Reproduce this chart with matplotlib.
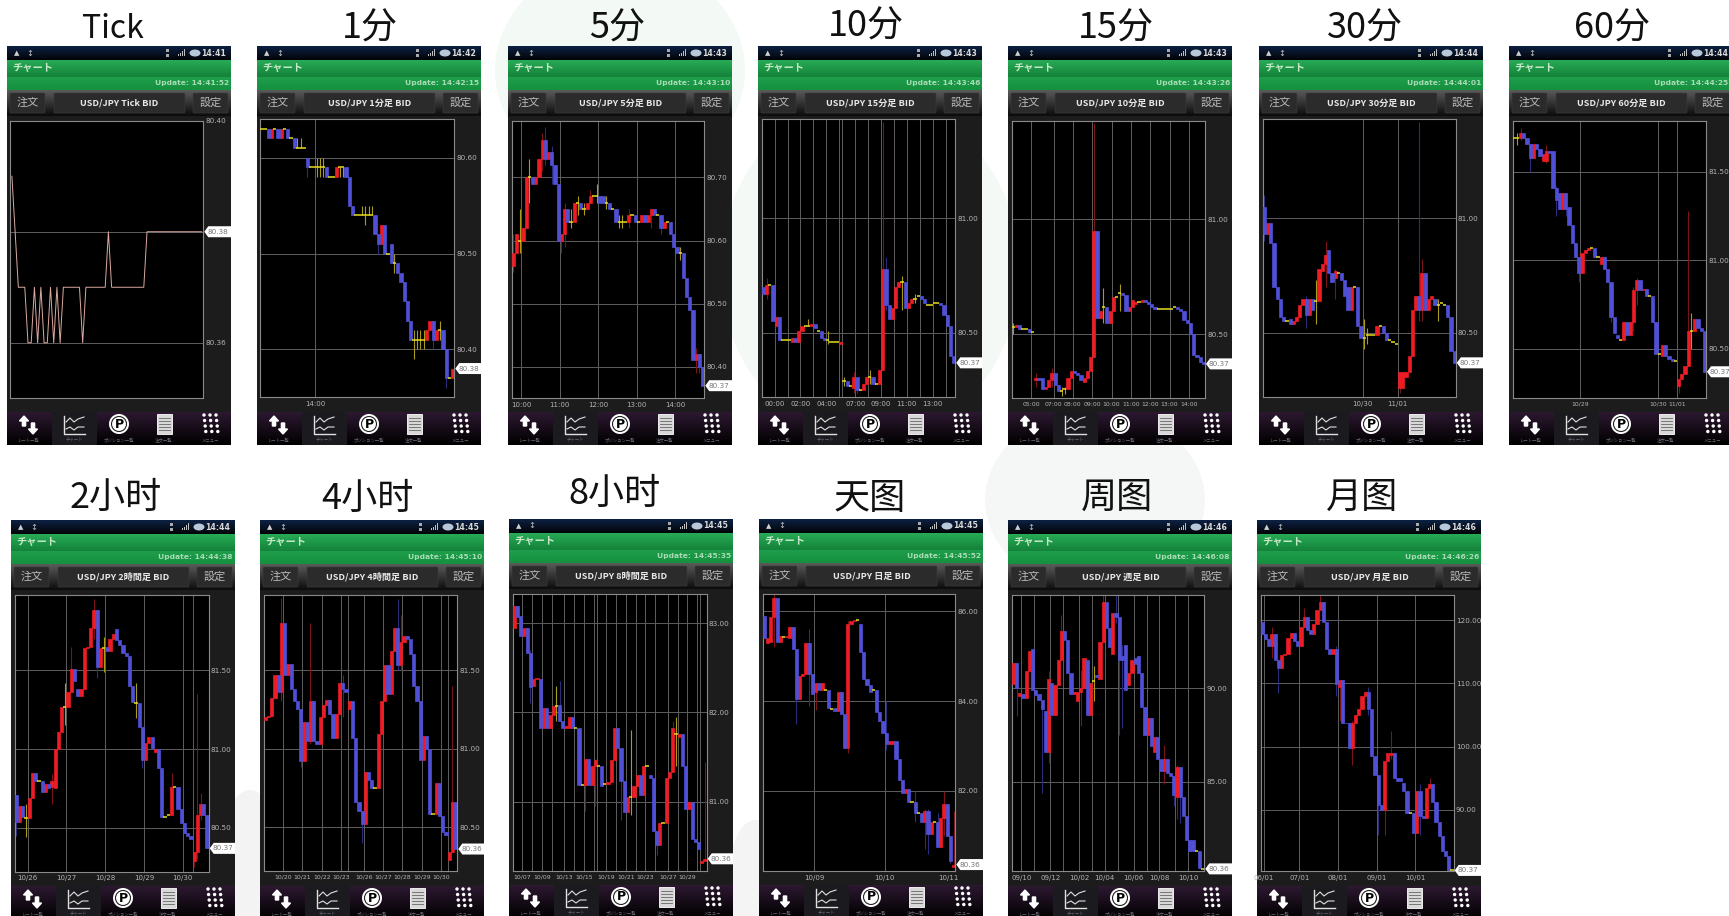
import numpy as np
import matplotlib
matplotlib.use('Agg')
import matplotlib.pyplot as plt
from matplotlib.patches import Rectangle, Circle, Ellipse, Polygon, FancyArrow, FancyBboxPatch
from matplotlib.colors import to_rgb

W, H = 1729, 916
CJK = ['Noto Sans CJK JP', 'DejaVu Sans']

# tick chart
tick_prices = np.array([.39,.38,.37,.37,.37,.36,.36,.37,.36,.37,.36,.36,.37,.36,.37,.36,.37,.37,.37,.37,
                        .37,.37,.36,.37,.37,.37,.37,.37,.37,.37,.38,.37,.37,.37,.37,.37,.37,.37,.37,.37,
                        .37,.37,.38,.38,.38,.38,.38,.38,.38,.38,.38,.38,.38,.38,.38,.38,.38,.38,.38,.38]) + 80

# candles: opens / closes, wicks are (index, low, high)
o_1m = np.array([.63,.63,.63,.62,.63,.63,.62,.63,.63,.62, .62,.61,.61,.61,.60,.59,.59,.59,.59,.59,
                 .59,.58,.58,.58,.59,.59,.59,.58,.55,.54, .54,.54,.54,.54,.54,.54,.52,.51,.53,.50,
                 .51,.49,.49,.48,.47,.45,.43,.41,.41,.41, .41,.41,.42,.43,.41,.42,.42,.40,.37,.37]) + 80
c_1m = np.array([.63,.63,.62,.63,.63,.62,.63,.63,.62,.62, .61,.61,.61,.61,.59,.59,.59,.59,.59,.59,
                 .58,.58,.58,.59,.59,.59,.58,.55,.54,.54, .54,.54,.54,.54,.54,.52,.51,.53,.50,.50,
                 .49,.49,.48,.47,.45,.43,.41,.41,.41,.41, .41,.42,.43,.41,.42,.42,.40,.37,.37,.38]) + 80
wi_1m = [11,12,14,17,18,19,24,25,31,32,33,34,36,38,41,44,47,48,49,50,53,55,57]
wl_1m = np.array([.61,.61,.58,.58,.58,.58,.58,.58,.54,.53,.54,.54,.50,.50,.48,.46,.39,.40,.40,.40,.40,.41,.36]) + 80
wh_1m = np.array([.62,.62,.59,.60,.60,.60,.59,.59,.55,.55,.55,.55,.52,.53,.50,.47,.42,.42,.42,.42,.43,.43,.40]) + 80

o_5m = np.array([.56,.58,.60,.60,.62,.70,.70,.69,.70,.73, .76,.73,.74,.72,.69,.60,.61,.65,.63,.63,
                 .66,.66,.65,.65,.66,.67,.67,.67,.67,.66, .66,.65,.65,.63,.63,.63,.63,.64,.64,.63,
                 .63,.64,.63,.64,.65,.64,.64,.62,.63,.63, .61,.59,.58,.58,.54,.51,.49,.41,.42,.40]) + 80
c_5m = np.array([.58,.61,.60,.62,.70,.70,.69,.70,.73,.76, .73,.74,.72,.69,.60,.61,.65,.63,.63,.66,
                 .66,.65,.65,.66,.67,.67,.67,.66,.66,.66, .65,.65,.63,.63,.63,.63,.64,.64,.63,.63,
                 .64,.63,.64,.65,.64,.64,.62,.63,.63,.61, .59,.58,.58,.54,.51,.49,.41,.42,.40,.37]) + 80
wi_5m = [0,2,5,9,10,12,13,15,16,18,20,22,24,26,29,33,34,36,43,46,52,57,58]
wl_5m = np.array([.55,.58,.66,.71,.72,.69,.69,.58,.59,.62,.64,.64,.67,.66,.65,.62,.62,.62,.62,.61,.57,.39,.39]) + 80
wh_5m = np.array([.61,.65,.73,.77,.78,.75,.72,.61,.66,.65,.67,.66,.68,.69,.67,.64,.64,.65,.65,.64,.59,.43,.42]) + 80

o_15m = np.array([.70,.67,.71,.71,.53,.57,.47,.47,.47,.46, .48,.46,.51,.53,.53,.53,.54,.51,.51,.48,
                  .47,.46,.46,.46,.45,.29,.29,.27,.26,.31, .25,.25,.28,.31,.31,.28,.28,.34,.78,.62,
                  .56,.61,.70,.72,.72,.61,.63,.65,.66,.66, .65,.62,.62,.63,.63,.63,.62,.58,.53,.40]) + 80
c_15m = np.array([.67,.71,.71,.55,.57,.47,.47,.47,.47,.48, .46,.51,.53,.53,.53,.54,.52,.51,.48,.47,
                  .47,.46,.46,.46,.46,.29,.27,.27,.31,.25, .25,.28,.31,.31,.28,.28,.34,.78,.62,.56,
                  .61,.70,.72,.72,.61,.63,.65,.65,.66,.65, .63,.62,.62,.63,.63,.62,.58,.53,.40,.37]) + 80
wi_15m = [1,14,20,25,28,29,33,37,38,43,47]
wl_15m = np.array([.65,.53,.45,.27,.24,.24,.28,.34,.60,.60,.63]) + 80
wh_15m = np.array([.74,.56,.51,.31,.33,.31,.34,1.42,.83,.75,.67]) + 80

o_10m = np.array([.53,.53,.54,.52,.52,.52,.51,.30,.31,.31, .26,.27,.30,.33,.28,.25,.26,.26,.31,.34,
                  .33,.32,.29,.31,.34,.40,.95,.57,.62,.62, .55,.60,.66,.68,.68,.67,.60,.62,.63,.64,
                  .64,.65,.64,.63,.62,.61,.61,.61,.61,.61, .62,.62,.61,.60,.56,.55,.50,.41,.40,.38]) + 80
c_10m = np.array([.53,.54,.52,.52,.52,.51,.51,.31,.30,.26, .27,.30,.33,.28,.25,.25,.26,.31,.34,.33,
                  .32,.30,.31,.34,.40,.95,.57,.60,.62,.55, .60,.66,.66,.68,.67,.60,.62,.65,.64,.64,
                  .65,.64,.63,.62,.61,.61,.61,.61,.61,.61, .62,.61,.60,.56,.55,.50,.41,.40,.38,.37]) + 80
wi_10m = [0,7,12,15,16,25,28,33]
wl_10m = np.array([.50,.27,.27,.23,.24,.40,.55,.60]) + 80
wh_10m = np.array([.55,.33,.35,.27,.27,1.42,.70,.72]) + 80

o_30m = np.array([1.05,.93,.98,.89,.70,.65,.57,.55,.56,.54, .55,.57,.62,.65,.58,.65,.64,.64,.77,.80,
                  .86,.76,.74,.76,.76,.73,.70,.60,.70,.70, .53,.48,.49,.49,.49,.49,.53,.53,.50,.47,
                  .46,.45,.26,.26,.31,.33,.40,.60,.66,.60, .76,.60,.65,.65,.62,.63,.62,.62,.57,.42]) + 80
c_30m = np.array([.93,.98,.89,.70,.65,.57,.55,.55,.54,.55, .57,.62,.65,.58,.65,.60,.64,.78,.80,.84,
                  .76,.72,.77,.76,.73,.66,.60,.70,.70,.53, .48,.48,.49,.49,.49,.53,.53,.50,.47,.47,
                  .46,.45,.33,.33,.33,.40,.60,.66,.60,.76, .60,.65,.66,.62,.62,.63,.62,.57,.42,.37]) + 80
wi_30m = [0,13,16,19,22,31,32,42,48,49,54]
wl_30m = np.array([.90,.52,.54,.70,.65,.43,.45,.24,.55,.55,.55]) + 80
wh_30m = np.array([1.10,.66,.73,.90,.78,.56,.52,.33,1.42,.82,.65]) + 80

o_60m = np.array([1.69,1.69,1.69,1.72,1.69,1.66,1.58,1.66,1.63,1.56, 1.56,1.62,1.62,1.41,1.38,1.29,1.38,1.30,1.20,1.10,
                  1.02,.93,1.04,1.06,1.07,1.07,1.02,.98,1.02,.95, .88,.68,.58,.55,.55,.65,.58,.65,.83,.89,
                  .83,.84,.80,.80,.65,.47,.46,.52,.46,.44, .43,.29,.33,.36,.40,.60,.60,.67,.62,.60]) + 80
c_60m = np.array([1.69,1.69,1.72,1.69,1.66,1.58,1.66,1.63,1.59,1.60, 1.62,1.61,1.41,1.34,1.29,1.38,1.29,1.20,1.10,1.02,
                  .93,1.04,1.06,1.07,1.07,1.02,1.02,1.02,.95,.88, .68,.59,.56,.55,.65,.58,.65,.83,.89,.83,
                  .84,.80,.80,.65,.47,.47,.52,.46,.44,.43, .43,.33,.36,.40,.60,.60,.67,.62,.60,.37]) + 80
wi_60m = [1,2,5,10,13,16,20,30,37,38,51,54,55]
wl_60m = np.array([1.65,1.68,1.50,1.55,1.25,1.25,.88,.65,.60,.75,.25,.40,.50]) + 80
wh_60m = np.array([1.72,1.75,1.66,1.65,1.42,1.38,1.02,.88,.85,.90,.33,1.28,.70]) + 80

o_2h = np.array([.71,.54,.64,.56,.56,.69,.85,.80,.80,.73, .78,.76,.75,1.00,1.11,1.27,1.27,1.36,1.51,1.38,
                 1.34,1.38,1.64,1.65,1.77,1.88,1.52,1.64,1.65,1.62, 1.70,1.76,1.69,1.66,1.61,1.59,1.40,1.29,1.29,1.14,
                 .93,1.04,1.08,.98,1.00,.88,.57,.58,.58,.76, .76,.62,.53,.47,.45,.29,.35,.58,.65,.58]) + 80
c_2h = np.array([.54,.64,.57,.56,.69,.85,.80,.80,.73,.78, .75,.80,1.00,1.11,1.27,1.27,1.36,1.51,1.43,1.34,
                 1.38,1.64,1.65,1.77,1.88,1.52,1.64,1.64,1.62,1.70, 1.73,1.69,1.66,1.61,1.59,1.40,1.30,1.29,1.14,.93,
                 1.04,1.08,1.01,1.00,.88,.57,.57,.58,.76,.76, .62,.53,.47,.45,.43,.35,.58,.65,.58,.37]) + 80
wi_2h = [0,3,11,15,17,24,25,27,37,39,48,55,56,57]
wl_2h = np.array([.45,.44,.65,1.15,1.45,1.70,1.45,1.49,1.20,.88,.60,.25,.30,.55]) + 80
wh_2h = np.array([.71,.65,.84,1.42,1.65,1.95,1.88,1.71,1.42,1.14,.85,.35,1.35,.72]) + 80

o_4h = np.array([1.18,1.20,1.21,1.32,1.47,1.36,1.80,1.47,1.54,1.38, 1.30,1.25,.92,1.17,1.05,1.30,1.05,1.03,1.20,1.28,
                 1.31,1.22,1.07,1.22,1.42,1.38,1.25,1.30,1.07,.66, .60,.52,.85,.80,.75,.75,1.09,1.30,1.53,1.35,
                 1.62,1.77,1.53,1.68,1.72,1.70,1.60,1.40,1.30,.93, 1.08,1.00,.58,.58,.78,.57,.47,.29,.34,.66]) + 80
c_4h = np.array([1.20,1.21,1.32,1.47,1.36,1.80,1.47,1.54,1.38,1.30, 1.25,.92,1.17,1.05,1.30,1.05,1.03,1.20,1.28,1.31,
                 1.22,1.07,1.22,1.42,1.38,1.36,1.30,1.07,.66,.60, .52,.85,.80,.75,.75,1.09,1.30,1.53,1.35,1.62,
                 1.77,1.53,1.68,1.72,1.70,1.60,1.40,1.30,.93,1.08, 1.00,.58,.58,.78,.57,.47,.45,.34,.66,.36]) + 80
wi_4h = [5,11,14,24,30,41,42,58]
wl_4h = np.array([1.30,.88,1.03,1.20,.40,1.50,1.50,.34]) + 80
wh_4h = np.array([1.96,1.25,1.80,1.47,.60,1.95,1.85,1.40]) + 80

o_8h = np.array([2.95,3.19,3.08,2.86,2.95,2.67,2.30,2.37,2.37,1.83, 2.05,1.83,1.97,2.07,2.08,1.90,1.83,1.82,1.95,1.82,
                 1.82,1.19,1.19,1.48,1.19,1.40,1.40,1.40,1.20,1.20, 1.22,1.47,1.83,1.60,1.23,.88,1.05,1.05,1.18,1.30,
                 1.07,1.40,1.30,1.27,.67,.52,.76,.76,1.26,1.33, 1.76,1.72,1.76,1.40,.92,1.00,.58,.55,.31,.33]) + 80
c_8h = np.array([3.19,3.07,2.86,2.95,2.67,2.28,2.37,2.38,1.83,2.05, 1.83,1.97,2.07,2.07,1.90,1.82,1.85,1.95,1.82,1.82,
                 1.19,1.19,1.48,1.19,1.40,1.47,1.40,1.18,1.20,1.22, 1.47,1.83,1.60,1.23,.88,1.05,1.05,1.18,1.30,1.07,
                 1.40,1.40,1.27,.67,.52,.76,.76,1.26,1.33,1.83, 1.76,1.76,1.40,.92,1.00,.58,.55,.47,.33,.36]) + 80
wi_8h = [5,13,14,22,25,33,36,44,49,50,59]
wl_8h = np.array([2.10,1.90,1.90,.90,.95,.80,.85,.40,1.40,1.40,.33]) + 80
wh_8h = np.array([2.70,2.30,2.35,1.48,1.48,1.30,1.80,.67,1.90,1.95,1.45]) + 80

o_day = [85.90,85.30,85.32,85.87,86.30,85.32,85.43,85.43,85.40,85.65, 85.15,84.05,84.55,84.60,85.30,84.60,84.20,84.40,84.25,84.25,
         84.25,83.83,83.85,83.78,84.20,83.72,82.95,85.72,85.78,85.80, 85.72,85.10,84.50,84.35,84.25,84.25,83.75,83.55,83.30,83.05,
         83.05,83.12,82.70,82.25,81.95,82.05,81.75,81.75,81.50,81.50, 81.30,81.55,81.05,81.30,81.30,80.75,81.40,81.70,81.00,80.30]
c_day = [85.40,85.40,85.87,86.30,85.32,85.45,85.43,85.45,85.65,85.15, 84.05,84.55,84.60,85.30,84.60,84.15,84.40,84.25,84.40,84.25,
         83.85,83.83,83.78,84.20,83.72,82.95,85.72,85.78,85.80,85.80, 85.10,84.50,84.35,84.20,84.25,83.75,83.55,83.30,83.05,83.10,
         83.12,82.70,82.25,81.95,82.05,81.75,81.75,81.50,81.50,81.30, 81.55,81.05,81.30,81.30,80.75,81.40,81.70,81.00,80.45,80.36]
wi_day = [3,10,14,15,16,26,38,47,50,51,54,56,58,59]
wl_day = [85.2,83.5,83.9,84.2,83.8,82.85,82.9,81.3,80.7,80.6,80.8,81.0,80.4,80.3]
wh_day = [86.38,85.15,85.6,84.6,84.3,85.78,84.0,82.0,81.6,81.6,81.5,82.0,81.0,81.55]

o_wk = [90.25,91.35,89.60,89.70,89.50,90.90,92.10,89.90,89.70,89.40, 88.80,86.60,90.30,88.60,90.20,91.50,93.05,92.60,90.80,89.70,
        89.30,89.80,90.00,91.50,88.60,90.40,90.70,90.50,92.50,94.60, 93.20,91.85,94.00,93.80,91.70,92.30,90.20,90.80,91.60,91.70,
        90.80,89.00,87.50,88.40,86.60,87.40,86.20,85.60,86.20,85.50, 85.30,84.20,85.80,84.20,83.20,81.90,81.90,81.30,81.30,80.36]
c_wk = [91.35,90.00,89.75,89.50,90.90,92.00,89.90,89.65,89.40,88.90, 86.60,90.50,88.60,90.20,91.50,93.05,92.60,90.80,89.70,89.80,
        89.80,90.00,91.60,88.60,90.30,90.40,90.60,92.50,94.60,93.20, 92.20,94.00,93.80,91.50,91.50,89.90,90.80,91.50,91.30,90.80,
        89.00,87.50,88.40,86.90,87.40,86.20,85.60,86.20,85.50,85.30, 84.30,85.80,84.20,83.20,81.90,81.30,81.30,81.30,80.40,80.36]
wi_wk = [1,9,11,15,21,25,28,32,33,34,47,50,51,52]
wl_wk = [88.5,84.4,86.0,91.8,88.0,89.3,92.5,93.5,87.5,87.9,84.9,83.7,83.0,82.8]
wh_wk = [91.3,88.9,90.9,93.9,91.0,91.2,95.0,95.0,91.5,92.3,87.0,84.5,85.9,85.8]

o_mo = [119.8,117.8,117.0,116.0,117.8,113.7,112.5,114.5,114.7,117.2, 118.0,116.8,116.0,119.0,120.6,118.5,117.8,119.5,121.6,122.9,
        119.7,115.5,114.7,115.4,109.5,110.5,103.8,103.7,99.7,103.7, 105.0,106.0,108.0,108.7,106.0,98.5,95.5,90.8,89.9,97.7,
        98.7,99.0,95.0,95.0,94.3,93.0,89.5,89.5,86.3,93.0, 89.0,88.7,93.5,94.0,91.2,88.0,85.8,83.5,82.7,80.37]
c_mo = [117.8,117.0,116.0,117.8,113.7,112.5,114.5,114.7,117.2,118.0, 116.8,116.0,119.0,120.6,118.5,117.8,119.5,121.6,122.9,119.7,
        115.5,114.7,115.5,109.9,110.5,103.8,103.7,99.7,103.7,105.0, 106.0,108.0,108.7,106.0,98.5,95.5,90.8,89.9,97.7,99.0,
        99.0,95.0,94.5,94.5,93.0,89.5,89.5,86.3,93.0,89.0, 88.7,93.5,94.0,91.2,88.0,85.8,83.5,82.7,80.3,80.37]
wi_mo = [3,5,13,18,23,24,28,33,36,38,40,49,52]
wl_mo = [114,108.5,119,122,108,104,97,105,86,86,98,86,93.5]
wh_mo = [119,112.5,122,124,116,110.5,104,109.5,90.8,96,102.5,94,95]

# titles and text of each screen
titles = ['Tick','1分','5分','10分','15分','30分','60分','2小时','4小时','8小时','天图','周图','月图']
heads = ['USD/JPY Tick BID','USD/JPY 1分足 BID','USD/JPY 5分足 BID','USD/JPY 15分足 BID','USD/JPY 10分足 BID',
         'USD/JPY 30分足 BID','USD/JPY 60分足 BID','USD/JPY 2時間足 BID','USD/JPY 4時間足 BID','USD/JPY 8時間足 BID',
         'USD/JPY 日足 BID','USD/JPY 週足 BID','USD/JPY 月足 BID']
clocks = ['14:41','14:42','14:43','14:43','14:43','14:44','14:44','14:44','14:45','14:45','14:45','14:46','14:46']
updates = ['14:41:52','14:42:15','14:43:10','14:43:46','14:43:26','14:44:01','14:44:25','14:44:38','14:45:10',
           '14:45:35','14:45:52','14:46:08','14:46:26']
lasts = [80.38,80.38,80.37,80.37,80.37,80.37,80.37,80.37,80.36,80.36,80.36,80.36,80.37]
yticks = [[80.40,80.38,80.36],[80.60,80.50,80.40],[80.70,80.60,80.50,80.40],[81.00,80.50],[81.00,80.50],[81.00,80.50],
          [81.50,81.00,80.50],[81.50,81.00,80.50],[81.50,81.00,80.50],[83.00,82.00,81.00],[86.00,84.00,82.00],
          [90.00,85.00],[120.00,110.00,100.00,90.00]]
ylims = [(80.35,80.40),(80.35,80.64),(80.35,80.79),(80.22,81.43),(80.22,81.43),(80.22,81.43),(80.22,81.79),
         (80.22,81.98),(80.22,81.98),(80.22,83.33),(80.21,86.39),(80.23,95.0),(80.23,124.07)]
xlines = [[],[17],[3,15,27,39,51],[4,8,12,16,20,24,25,29,33,37,41,45,49,53,57],[6,13,19,25,31,37,43,49,55],[31,42],
          [21,45,51],[4,16,28,40,52,55],[6,12,18,24,26,31,37,43,49,55,57],
          [3,6,9,12,16,19,22,25,26,29,32,35,38,41,44,48,51,54,57,58],[16,38],
          [3,7,12,16,21,25,29,33,38,42,46,51,55],[1,12,24,36,48]]
xlabels = [{},{17:'14:00'},{3:'10:00',15:'11:00',27:'12:00',39:'13:00',51:'14:00'},
           {4:'00:00',12:'02:00',20:'04:00',29:'07:00',37:'09:00',45:'11:00',53:'13:00'},
           {6:'05:00',13:'07:00',19:'08:00',25:'09:00',31:'10:00',37:'11:00',43:'12:00',49:'13:00',55:'14:00'},
           {31:'10/30',42:'11/01'},{21:'10/29',45:'10/30',51:'11/01'},
           {4:'10/26',16:'10/27',28:'10/28',40:'10/29',52:'10/30'},
           {6:'10/20',12:'10/21',18:'10/22',24:'10/23',31:'10/26',37:'10/27',43:'10/28',49:'10/29',55:'10/30'},
           {3:'10/07',9:'10/09',16:'10/13',22:'10/15',29:'10/19',35:'10/21',41:'10/23',48:'10/27',54:'10/29'},
           {16:'10/09',38:'10/10'},
           {3:'09/10',12:'09/12',21:'10/02',29:'10/04',38:'10/06',46:'10/08',55:'10/10'},
           {1:'06/01',12:'07/01',24:'08/01',36:'09/01',48:'10/01'}]
xsize = [5,5,5,5,4.4,5,4.4,5,4.4,4.4,5,5,5]
candles = [None,(o_1m,c_1m,wi_1m,wl_1m,wh_1m),(o_5m,c_5m,wi_5m,wl_5m,wh_5m),(o_15m,c_15m,wi_15m,wl_15m,wh_15m),
           (o_10m,c_10m,wi_10m,wl_10m,wh_10m),(o_30m,c_30m,wi_30m,wl_30m,wh_30m),(o_60m,c_60m,wi_60m,wl_60m,wh_60m),
           (o_2h,c_2h,wi_2h,wl_2h,wh_2h),(o_4h,c_4h,wi_4h,wl_4h,wh_4h),(o_8h,c_8h,wi_8h,wl_8h,wh_8h),
           (o_day,c_day,wi_day,wl_day,wh_day),(o_wk,c_wk,wi_wk,wl_wk,wh_wk),(o_mo,c_mo,wi_mo,wl_mo,wh_mo)]

# screen positions in pixels: phone left, phone top, frame x0, x1, y0, y1, title x, title y
layout = [(7,46,10.3,203.3,120.7,398.3,113,29),(257,46,260.3,454.3,119.3,397.3,370,29),
          (508,46,511.7,704.3,120.7,398.3,617,29),(758,46,761.7,955.3,119.3,397.3,866,27),
          (1008,46,1011.6,1205,120.7,398.3,1116,29),(1259,46,1262.8,1455.8,119.3,397.3,1365,29),
          (1509,46,1512.6,1706,120.7,398.3,1612,29),(11,520,14.7,208.7,594.7,872,116,498),
          (260,520,263.7,457.3,594.7,871,367,499),(509,519,512.7,706.7,593.7,871.3,615,494),
          (759,519,762.7,955.3,593.7,871.3,870,499),(1008,520,1011.7,1204.3,594.7,871.3,1117,498),
          (1257,520,1260.7,1453.7,594.7,871.3,1362,498)]

RED, BLUE, YEL = '#ee1c25', '#5050d6', '#e8dc20'
WRED, WBLUE, WYEL = '#7a1416', '#2c2c7c', '#a89c18'

fig = plt.figure(figsize=(W/100, H/100), dpi=100, facecolor='white')
bg = fig.add_axes([0, 0, 1, 1], zorder=0)
bg.set_axis_off()
fg = fig.add_axes([0, 0, 1, 1], zorder=5)
fg.set_axis_off()
fg.patch.set_alpha(0)


def grad(ax, x0, x1, y0, y1, c0, c1):
    a, b = np.array(to_rgb(c0)), np.array(to_rgb(c1))
    t = np.linspace(0, 1, 32)[:, None, None]
    img = (a[None, None, :]*(1-t) + b[None, None, :]*t)
    ax.imshow(img, extent=(x0, x1, y1, y0), aspect='auto', zorder=2, interpolation='bilinear')


def draw_icons(L, T):
    y = T + 379
    # arrows
    bg.add_patch(FancyArrow(L+17, y+1, 0, -10, width=3.2, head_width=9, head_length=5, length_includes_head=True, color='white', zorder=4))
    bg.add_patch(FancyArrow(L+26, y-2, 0, 11, width=3.2, head_width=9, head_length=5, length_includes_head=True, color='white', zorder=4))
    # chart tab
    bg.add_patch(Rectangle((L+45, T+366), 45, 33, fc='#1b1b1f', ec='none', zorder=3))
    bg.plot([L+57, L+57, L+78], [y-9, y+9, y+9], color='#e0e0e0', lw=1, zorder=4)
    bg.plot([L+59, L+63, L+67, L+71, L+77], [y-3, y-7, y-3, y-6, y-8], color='#e0e0e0', lw=.8, zorder=4)
    bg.plot([L+59, L+63, L+67, L+71, L+77], [y+4, y+2, y+5, y+2, y+2], color='#e0e0e0', lw=.8, zorder=4)
    # position
    bg.add_patch(Circle((L+112, y-1), 10, fc='white', ec='none', zorder=4))
    bg.add_patch(Circle((L+112, y-1), 7.5, fc='none', ec='#222222', lw=.8, zorder=4))
    bg.text(L+112, y-1, 'P', color='black', fontsize=9, fontweight='bold', ha='center', va='center', zorder=5)
    # order sheet
    bg.add_patch(Rectangle((L+150, y-11), 15, 20, fc='#d8d8d8', ec='white', lw=.6, zorder=4))
    for k in range(5):
        bg.plot([L+152, L+163], [y-7+k*3, y-7+k*3], color='#666666', lw=.6, zorder=5)
    # menu dots
    for r in range(4):
        for q in range(3):
            bg.add_patch(Circle((L+197+q*6+r*.6, y-10+r*5.5), 1.7, fc='white', ec='none', zorder=4))
    for x, s in zip([21, 67, 112, 157, 203], ['レート一覧', 'チャート', 'ポジション一覧', '注文一覧', 'メニュー']):
        bg.text(L+x, T+394, s, color='#6a6a74', fontsize=3.2, ha='center', va='center', family=CJK, zorder=5)


def draw_chrome(k):
    L, T = layout[k][0], layout[k][1]
    R = L + 224
    B = T + 399
    grad(bg, L, R, T, T+14, '#0c2142', '#020408')
    grad(bg, L, R, T+14, T+31, '#27ab56', '#14823a')
    grad(bg, L, R, T+31, T+44, '#1f9e4c', '#15903f')
    grad(bg, L, R, T+44, T+70, '#5a5a5a', '#0c0c0c')
    bg.add_patch(Rectangle((L, T+70), 224, 296, fc='#1c1c1c', ec='none', zorder=2))
    grad(bg, L, R, T+366, B, '#2c1830', '#000000')
    # status bar
    bg.text(L+10, T+7, '▲', color='#d0d0d0', fontsize=5, ha='center', va='center', zorder=5)
    bg.text(L+23, T+7, '↕', color='#c0c0c0', fontsize=6, ha='center', va='center', zorder=5)
    for m, h in enumerate([2, 3, 5, 7]):
        bg.add_patch(Rectangle((L+171+m*2, T+10-h), 1.2, h, fc='#c0c0c0', ec='none', zorder=5))
    bg.add_patch(Rectangle((L+159, T+3), 3, 3, fc='#aaaaaa', ec='none', zorder=5))
    bg.add_patch(Rectangle((L+159, T+8), 3, 3, fc='#aaaaaa', ec='none', zorder=5))
    bg.add_patch(Ellipse((L+188, T+7), 11, 7, fc='#b8c8d8', ec='none', zorder=5))
    bg.text(min(L+219, W-1), T+7, clocks[k], color='#d8d8d8', fontsize=5.6, fontweight='bold', ha='right', va='center', zorder=5)
    # title bars
    bg.text(L+5, T+21.5, 'チャート', color='#c8e8c8', fontsize=7.4, fontweight='bold', ha='left', va='center', family=CJK, zorder=5)
    bg.text(min(L+222, W-1), T+37, 'Update: '+updates[k], color='#a8dcb4', fontsize=5.4, fontweight='bold', ha='right', va='center', zorder=5)
    # buttons
    for x0, x1, s in [(3, 38, '注文'), (47, 178, heads[k]), (186, 221, '設定')]:
        bg.add_patch(FancyBboxPatch((L+x0+1, T+48), x1-x0-2, 18, boxstyle='round,pad=1', fc='#2b2b2b', ec='#3d3d3d', lw=.4, zorder=3))
        weight = 'bold' if x0 == 47 else 'normal'
        col = '#e8e8e8' if x0 == 47 else '#b8b8b8'
        size = 6.6 if x0 == 47 else 8
        bg.text(L+(x0+x1)/2, T+57, s, color=col, fontsize=size, fontweight=weight, ha='center', va='center', family=CJK, zorder=5)
    draw_icons(L, T)


def draw_candles(ax, o, c, wi, wl, wh):
    o = np.asarray(o, float)
    c = np.asarray(c, float)
    x = np.arange(len(o)) + 0.5
    flat = np.isclose(o, c)
    up = (c > o) & ~flat
    down = (c < o) & ~flat
    for i, lo, hi in zip(wi, wl, wh):
        col = WYEL if flat[i] else (WRED if up[i] else WBLUE)
        ax.vlines(x[i], lo, hi, color=col, lw=.8, zorder=2)
    ax.bar(x[up], (c-o)[up], bottom=o[up], width=1.0, color=RED, edgecolor=RED, linewidth=.5, zorder=3)
    ax.bar(x[down], (c-o)[down], bottom=o[down], width=1.0, color=BLUE, edgecolor=BLUE, linewidth=.5, zorder=3)
    ax.hlines(c[flat], x[flat]-.5, x[flat]+.5, color=YEL, lw=1.1, zorder=4)


# pale marks of the watermark behind the screens
for cx, cy, rx, ry, col in [(620, 70, 125, 110, '#f3f9f4'), (870, 270, 150, 170, '#f4f9f5'), (1095, 500, 110, 90, '#f4f7f5'),
                            (250, 910, 40, 120, '#f3f3f3'), (755, 900, 30, 80, '#f4f4f4')]:
    bg.add_patch(Ellipse((cx, cy), 2*rx, 2*ry, fc=col, ec='none', zorder=1))

for k in range(13):
    draw_chrome(k)
    L, T, x0, x1, y0, y1, tx, ty = layout[k]
    bg.text(tx, ty, titles[k], color='#111111', fontsize=23 if k == 0 else 26, ha='center', va='center',
            family=['Noto Sans CJK SC', 'DejaVu Sans'], zorder=5)

    ax = fig.add_axes([x0/W, 1-y1/H, (x1-x0)/W, (y1-y0)/H], zorder=2, facecolor='black')
    ax.set_xlim(0, 60)
    ax.set_ylim(*ylims[k])
    if k == 0:
        ax.plot(np.arange(len(tick_prices))+0.5, tick_prices, color='#dba9a0', lw=.7, zorder=3)
    else:
        draw_candles(ax, *candles[k])
    ax.yaxis.tick_right()
    ax.set_yticks(yticks[k])
    ax.set_yticklabels(['%.2f' % v for v in yticks[k]])
    ax.set_xticks(xlines[k])
    ax.set_xticklabels([xlabels[k].get(v, '') for v in xlines[k]])
    if k == 10:
        # 10/11 has a label but no grid line
        ax.set_xticks([58], minor=True)
        ax.set_xticklabels(['10/11'], minor=True)
        ax.tick_params(axis='x', which='minor', length=0, labelsize=xsize[k], labelcolor='#b4b4b4', pad=2.5)
    ax.tick_params(axis='y', length=0, labelsize=5.2, labelcolor='#b4b4b4', pad=1.5)
    ax.tick_params(axis='x', length=0, labelsize=xsize[k], labelcolor='#b4b4b4', pad=2.5)
    ax.grid(True, which='major', color='#5e5e5e', lw=.7, zorder=1)
    ax.set_axisbelow(True)
    for sp in ax.spines.values():
        sp.set_color('#8a8a8a')
        sp.set_linewidth(.8)

    # last price flag on the right of the frame
    py = H - ax.transData.transform((0, lasts[k]))[1]
    R = L + 224
    fg.add_patch(Polygon([(x1+1, py), (x1+5, py-5.5), (R, py-5.5), (R, py+5.5), (x1+5, py+5.5)], fc='white', ec='none', zorder=3))
    fg.text(x1+4, py, '%.2f' % lasts[k], color='#777777', fontsize=5.2, ha='left', va='center', zorder=4)

bg.set_xlim(0, W)
bg.set_ylim(H, 0)
fg.set_xlim(0, W)
fg.set_ylim(H, 0)

fig.savefig('out.png', dpi=100)
